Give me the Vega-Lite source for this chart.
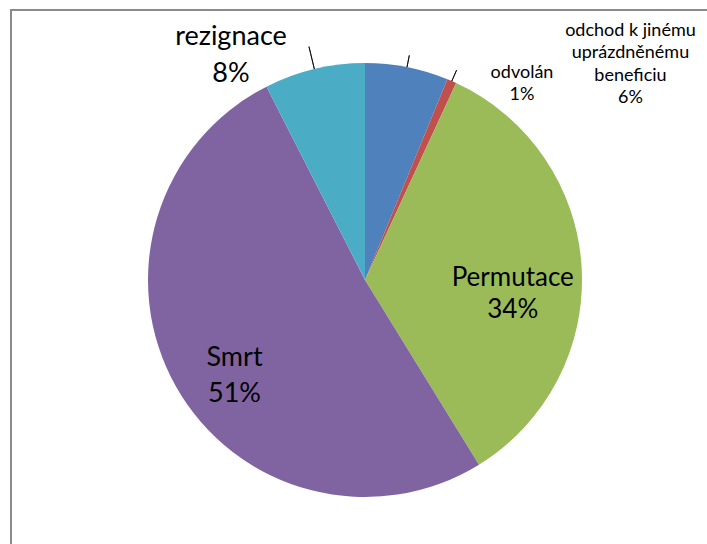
{
  "$schema": "https://vega.github.io/schema/vega-lite/v6.json",
  "width": 708,
  "height": 540,
  "autosize": {"type": "none"},
  "padding": {"left": 11, "top": 10, "right": -12, "bottom": -6},
  "background": "white",
  "view": {"stroke": "#8a8a8a", "strokeWidth": 2},
  "config": {
    "view": {"stroke": "#8a8a8a", "strokeWidth": 2},
    "text": {"font": "Lato", "color": "#000000"}
  },
  "data": {
    "values": [
      {"i": 1, "k": "odchod k jinému uprázdněnému beneficiu", "v": 6.2, "label": "odchod k jinému\nuprázdněnému\nbeneficiu\n6%"},
      {"i": 2, "k": "odvolán", "v": 0.7, "label": "odvolán\n1%"},
      {"i": 3, "k": "Permutace", "v": 34.3, "label": "Permutace\n34%"},
      {"i": 4, "k": "Smrt", "v": 51.3, "label": "Smrt\n51%"},
      {"i": 5, "k": "rezignace", "v": 7.5, "label": "rezignace\n8%"}
    ]
  },
  "transform": [
    {"stack": "v", "groupby": [], "sort": [{"field": "i", "order": "ascending"}], "as": ["v0", "v1"]},
    {"calculate": "(datum.v0 + datum.v1) / 2", "as": "mid"}
  ],
  "layer": [
    {
      "mark": {"type": "arc", "outerRadius": 217},
      "encoding": {
        "theta": {"field": "v0", "type": "quantitative", "scale": {"domain": [0, 100]}},
        "theta2": {"field": "v1"},
        "color": {
          "field": "k", "type": "nominal", "legend": null,
          "scale": {
            "domain": ["odchod k jinému uprázdněnému beneficiu", "odvolán", "Permutace", "Smrt", "rezignace"],
            "range": ["#4F81BD", "#C0504D", "#9BBB59", "#8064A2", "#4BACC6"]
          }
        }
      }
    },
    {
      "transform": [{"filter": "datum.i == 5"}],
      "mark": {"type": "arc", "innerRadius": 217, "outerRadius": 240, "filled": false, "stroke": "#000000", "strokeWidth": 0.8},
      "encoding": {"theta": {"field": "mid", "type": "quantitative", "stack": null}, "theta2": {"field": "mid"}}
    },
    {
      "transform": [{"filter": "datum.i == 2"}],
      "mark": {"type": "arc", "innerRadius": 217, "outerRadius": 229, "filled": false, "stroke": "#000000", "strokeWidth": 0.8},
      "encoding": {"theta": {"field": "mid", "type": "quantitative", "stack": null}, "theta2": {"field": "mid"}}
    },
    {
      "transform": [{"filter": "datum.i == 1"}],
      "mark": {"type": "arc", "innerRadius": 217, "outerRadius": 229, "filled": false, "stroke": "#000000", "strokeWidth": 0.8},
      "encoding": {"theta": {"field": "mid", "type": "quantitative", "stack": null}, "theta2": {"field": "mid"}}
    },
    {
      "transform": [{"filter": "datum.i == 3"}],
      "mark": {"type": "text", "radius": 148, "dy": 7, "fontSize": 26, "lineHeight": 32, "lineBreak": "\n", "align": "center", "baseline": "middle"},
      "encoding": {"theta": {"field": "mid", "type": "quantitative", "stack": null}, "text": {"field": "label"}}
    },
    {
      "transform": [{"filter": "datum.i == 4"}],
      "mark": {"type": "text", "radius": 160, "dx": 9, "dy": 0, "fontSize": 27, "lineHeight": 36, "lineBreak": "\n", "align": "center", "baseline": "middle"},
      "encoding": {"theta": {"field": "mid", "type": "quantitative", "stack": null}, "text": {"field": "label"}}
    },
    {
      "transform": [{"filter": "datum.i == 5"}],
      "mark": {"type": "text", "radius": 240, "dx": -78, "dy": -10, "fontSize": 27, "lineHeight": 37, "lineBreak": "\n", "align": "center", "baseline": "middle"},
      "encoding": {"theta": {"field": "mid", "type": "quantitative", "stack": null}, "text": {"field": "label"}}
    },
    {
      "transform": [{"filter": "datum.i == 2"}],
      "mark": {"type": "text", "radius": 240, "dx": 61, "dy": 13, "fontSize": 18, "lineHeight": 22, "lineBreak": "\n", "align": "center", "baseline": "middle"},
      "encoding": {"theta": {"field": "mid", "type": "quantitative", "stack": null}, "text": {"field": "label"}}
    },
    {
      "transform": [{"filter": "datum.i == 1"}],
      "mark": {"type": "text", "radius": 240, "dx": 219, "dy": -14, "fontSize": 18, "lineHeight": 22.5, "lineBreak": "\n", "align": "center", "baseline": "middle"},
      "encoding": {"theta": {"field": "mid", "type": "quantitative", "stack": null}, "text": {"field": "label"}}
    }
  ]
}
